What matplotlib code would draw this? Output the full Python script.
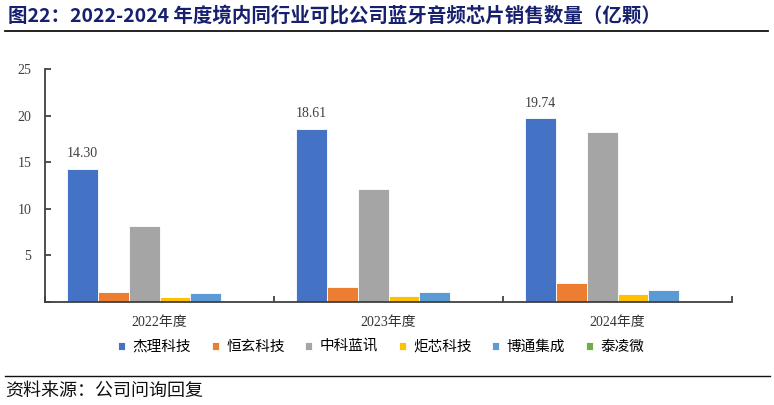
import matplotlib
matplotlib.use("Agg")
import matplotlib.pyplot as plt
from matplotlib.lines import Line2D
import numpy as np

years = ["2022年度", "2023年度", "2024年度"]
companies = ["杰理科技", "恒玄科技", "中科蓝讯", "炬芯科技", "博通集成", "泰凌微"]
jieli = [14.30, 18.61, 19.74]
hengxuan = [1.10, 1.57, 2.00]
zhongke = [8.20, 12.10, 18.20]
juxin = [0.57, 0.68, 0.86]
botong = [1.00, 1.04, 1.29]
tailing = [0.14, 0.05, 0.14]
series = [jieli, hengxuan, zhongke, juxin, botong, tailing]
colors = ["#4472C4", "#ED7D31", "#A5A5A5", "#FFC000", "#5B9BD5", "#70AD47"]
label_series = jieli

serif = ["Liberation Serif", "Noto Sans CJK SC"]
cjk = ["Noto Sans CJK SC", "DejaVu Sans"]

fig = plt.figure(figsize=(7.74, 4.05), dpi=100)
ax = fig.add_axes([45/774, 1-302/405, (732-45)/774, (302-69)/405])

x = np.arange(len(years))
w = 0.134
handles = []
for i, (vals, c) in enumerate(zip(series, colors)):
    off = (i - 2.5) * w
    b = ax.bar(x + off, vals, w, color=c, edgecolor="white", linewidth=0.6, label=companies[i])
    handles.append(b)

for xi, v in zip(x, label_series):
    ax.text(xi - 2.5*w, v + 0.9, f"{v:.2f}", ha="center", va="bottom",
            fontsize=10, family=serif, color="#404040")

ax.set_xlim(-0.5, 2.5)
ax.set_ylim(0, 25)
ax.set_yticks([0, 5, 10, 15, 20, 25])
ax.set_yticklabels(["", "5", "10", "15", "20", "25"], family=serif, fontsize=10, color="#404040")
ax.tick_params(axis="y", direction="in", length=4, width=1.2, pad=10, color="#333333")
ax.set_xticks(x)
ax.set_xticklabels(years, family=serif, fontsize=10, color="#333333")
ax.set_xticks([-0.5, 0.5, 1.5, 2.5], minor=True)
ax.tick_params(axis="x", which="major", length=0, pad=10)
ax.tick_params(axis="x", which="minor", direction="in", length=4, width=1.2, color="#333333")
for s in ["top", "right"]:
    ax.spines[s].set_visible(False)
for s in ["left", "bottom"]:
    ax.spines[s].set_color("#404040")
    ax.spines[s].set_linewidth(1.3)

fig.legend(handles=handles, labels=companies, loc="center", bbox_to_anchor=(381/774, 1-347/405),
           ncol=6, frameon=False, handlelength=0.5, handleheight=0.5, handletextpad=0.5,
           columnspacing=1.4, prop={"family": serif, "size": 10.5})

fig.text(8/774, 1-15/405, "图22：2022-2024 年度境内同行业可比公司蓝牙音频芯片销售数量（亿颗）",
         ha="left", va="center", fontsize=14, fontweight="bold", family=cjk, color="#17206E")
fig.add_artist(Line2D([5/774, 768/774], [1-31/405, 1-31/405], color="#111111", linewidth=1.3))
fig.add_artist(Line2D([5/774, 770/774], [1-376/405, 1-376/405], color="#111111", linewidth=1.0))
fig.text(5/774, 1-391/405, "资料来源：公司问询回复", ha="left", va="center",
         fontsize=13, family=cjk, color="#111111")

fig.savefig("out.png", dpi=100)
